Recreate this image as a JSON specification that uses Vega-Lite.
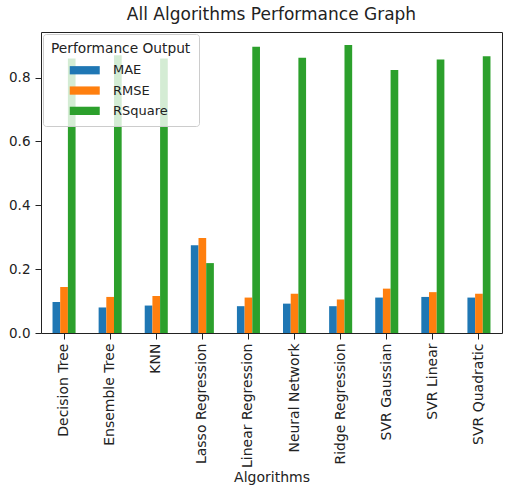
{
  "$schema": "https://vega.github.io/schema/vega-lite/v6.json",
  "width": 461,
  "height": 301,
  "autosize": {"type": "none"},
  "padding": {"left": 41, "top": 32, "right": 3, "bottom": 157},
  "background": "white",
  "title": {"text": "All Algorithms Performance Graph", "fontSize": 17, "font": "DejaVu Sans", "fontWeight": "normal", "color": "#222", "offset": 8},
  "data": {"values": [
    {"Algorithm": "Decision Tree", "Metric": "MAE", "Value": 0.097},
    {"Algorithm": "Decision Tree", "Metric": "RMSE", "Value": 0.144},
    {"Algorithm": "Decision Tree", "Metric": "RSquare", "Value": 0.86},
    {"Algorithm": "Ensemble Tree", "Metric": "MAE", "Value": 0.080},
    {"Algorithm": "Ensemble Tree", "Metric": "RMSE", "Value": 0.113},
    {"Algorithm": "Ensemble Tree", "Metric": "RSquare", "Value": 0.87},
    {"Algorithm": "KNN", "Metric": "MAE", "Value": 0.086},
    {"Algorithm": "KNN", "Metric": "RMSE", "Value": 0.116},
    {"Algorithm": "KNN", "Metric": "RSquare", "Value": 0.86},
    {"Algorithm": "Lasso Regression", "Metric": "MAE", "Value": 0.275},
    {"Algorithm": "Lasso Regression", "Metric": "RMSE", "Value": 0.298},
    {"Algorithm": "Lasso Regression", "Metric": "RSquare", "Value": 0.219},
    {"Algorithm": "Linear Regression", "Metric": "MAE", "Value": 0.084},
    {"Algorithm": "Linear Regression", "Metric": "RMSE", "Value": 0.111},
    {"Algorithm": "Linear Regression", "Metric": "RSquare", "Value": 0.897},
    {"Algorithm": "Neural Network", "Metric": "MAE", "Value": 0.092},
    {"Algorithm": "Neural Network", "Metric": "RMSE", "Value": 0.123},
    {"Algorithm": "Neural Network", "Metric": "RSquare", "Value": 0.862},
    {"Algorithm": "Ridge Regression", "Metric": "MAE", "Value": 0.084},
    {"Algorithm": "Ridge Regression", "Metric": "RMSE", "Value": 0.105},
    {"Algorithm": "Ridge Regression", "Metric": "RSquare", "Value": 0.902},
    {"Algorithm": "SVR Gaussian", "Metric": "MAE", "Value": 0.111},
    {"Algorithm": "SVR Gaussian", "Metric": "RMSE", "Value": 0.139},
    {"Algorithm": "SVR Gaussian", "Metric": "RSquare", "Value": 0.824},
    {"Algorithm": "SVR Linear", "Metric": "MAE", "Value": 0.113},
    {"Algorithm": "SVR Linear", "Metric": "RMSE", "Value": 0.128},
    {"Algorithm": "SVR Linear", "Metric": "RSquare", "Value": 0.857},
    {"Algorithm": "SVR Quadratic", "Metric": "MAE", "Value": 0.111},
    {"Algorithm": "SVR Quadratic", "Metric": "RMSE", "Value": 0.123},
    {"Algorithm": "SVR Quadratic", "Metric": "RSquare", "Value": 0.867}
  ]},
  "mark": {"type": "bar"},
  "encoding": {
    "x": {
      "field": "Algorithm", "type": "nominal", "sort": null,
      "scale": {"paddingInner": 0.5, "paddingOuter": 0.25},
      "axis": {"title": "Algorithms", "labelAngle": -90, "labelAlign": "right", "labelBaseline": "middle", "labelFontSize": 14, "titleFontSize": 14, "titleFontWeight": "normal", "labelPadding": 4, "titlePadding": 3, "domain": false, "tickColor": "#222", "tickSize": 6, "labelColor": "#222", "titleColor": "#222"}
    },
    "xOffset": {"field": "Metric", "type": "nominal"},
    "y": {
      "field": "Value", "type": "quantitative",
      "scale": {"domain": [0, 0.943], "nice": false},
      "axis": {"title": null, "values": [0, 0.2, 0.4, 0.6, 0.8], "format": ".1f", "grid": false, "domain": false, "labelFontSize": 13.5, "tickColor": "#222", "tickSize": 6, "labelColor": "#222", "labelPadding": 5}
    },
    "color": {
      "field": "Metric", "type": "nominal",
      "scale": {"domain": ["MAE", "RMSE", "RSquare"], "range": ["#1f77b4", "#ff7f0e", "#2ca02c"]},
      "legend": {
        "title": "Performance Output", "orient": "top-left", "offset": 2, "padding": 8,
        "fillColor": "rgba(255,255,255,0.8)", "strokeColor": "#ccc", "cornerRadius": 3,
        "titleFontSize": 13.75, "titleFontWeight": "normal", "labelFontSize": 13, "titleColor": "#222", "labelColor": "#222",
        "symbolType": "M1.5,-0.55L5.5,-0.55L5.5,0.55L1.5,0.55Z", "symbolSize": 225, "symbolStrokeWidth": 0, "symbolOpacity": 1,
        "rowPadding": 5.3, "labelOffset": 47, "titlePadding": 7
      }
    }
  },
  "config": {
    "font": "DejaVu Sans",
    "view": {"stroke": "#222", "strokeWidth": 1}
  }
}
